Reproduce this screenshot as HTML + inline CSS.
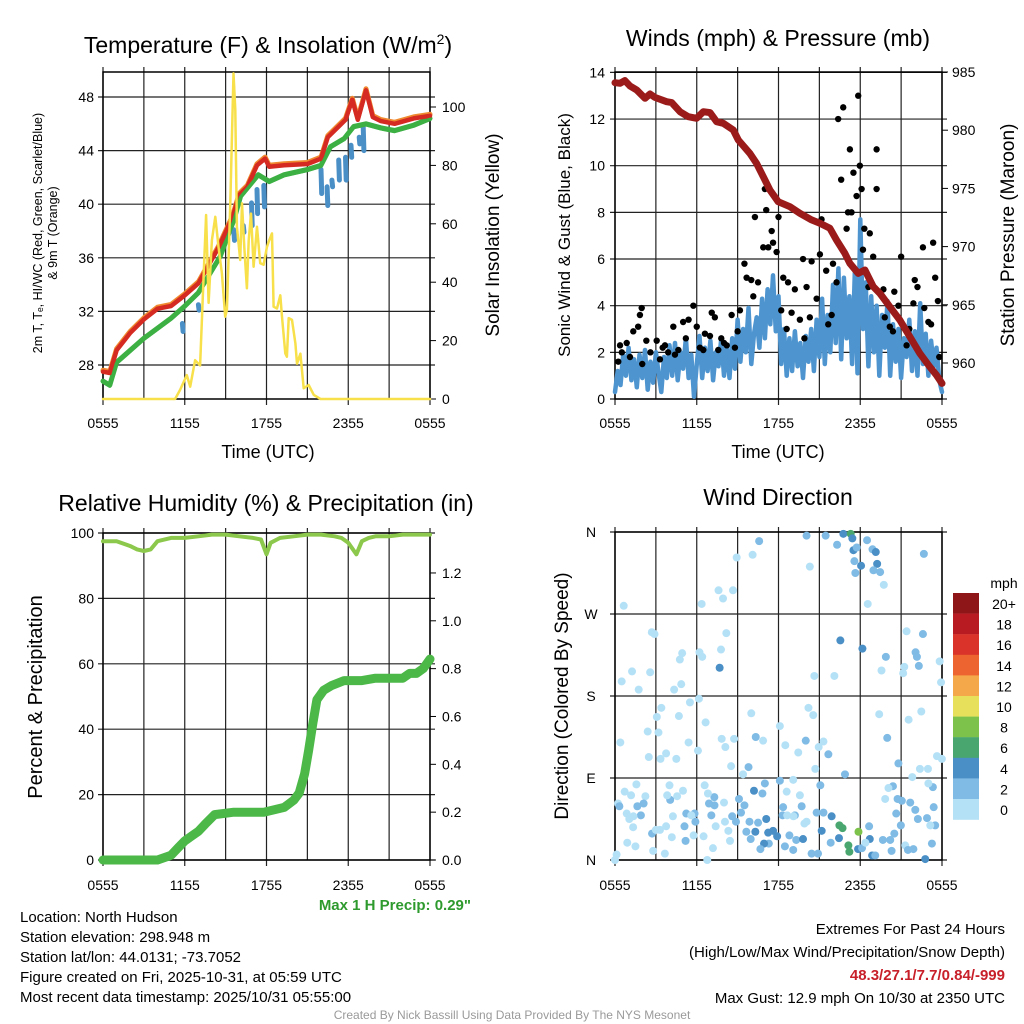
<!DOCTYPE html>
<html><head><meta charset="utf-8">
<style>
html,body{margin:0;padding:0;background:#fff;}
svg{display:block;font-family:"Liberation Sans",Arial,sans-serif;}
</style></head>
<body>
<svg id="fig" width="1024" height="1024" viewBox="0 0 1024 1024" xmlns="http://www.w3.org/2000/svg">
<rect width="1024" height="1024" fill="#fff"/>
<g id="p1"></g>
<g id="p2"></g>
<g id="p3"></g>
<g id="p4"></g>
<g id="txt">
<text x="268" y="53" font-size="23" text-anchor="middle">Temperature (F) &amp; Insolation (W/m<tspan font-size="14" dy="-9">2</tspan><tspan dy="9">)</tspan></text>
<text x="778" y="46" font-size="23" text-anchor="middle">Winds (mph) &amp; Pressure (mb)</text>
<text x="266" y="511" font-size="23" text-anchor="middle">Relative Humidity (%) &amp; Precipitation (in)</text>
<text x="778" y="505" font-size="23" text-anchor="middle">Wind Direction</text>
<text x="471" y="910" font-size="15" font-weight="bold" fill="#2e9a2e" text-anchor="end">Max 1 H Precip: 0.29"</text>
<g font-size="15" fill="#000">
<text x="20" y="922">Location: North Hudson</text>
<text x="20" y="942">Station elevation: 298.948 m</text>
<text x="20" y="962">Station lat/lon: 44.0131; -73.7052</text>
<text x="20" y="982">Figure created on Fri, 2025-10-31, at 05:59 UTC</text>
<text x="20" y="1002">Most recent data timestamp: 2025/10/31 05:55:00</text>
<text x="1005" y="934" text-anchor="end">Extremes For Past 24 Hours</text>
<text x="1005" y="957" text-anchor="end">(High/Low/Max Wind/Precipitation/Snow Depth)</text>
<text x="1005" y="980" text-anchor="end" fill="#c8202a" font-weight="bold">48.3/27.1/7.7/0.84/-999</text>
<text x="1005" y="1003" text-anchor="end">Max Gust: 12.9 mph On 10/30 at 2350 UTC</text>
</g>
<text x="512" y="1019" font-size="12" fill="#9a9a9a" text-anchor="middle">Created By Nick Bassill Using Data Provided By The NYS Mesonet</text>
</g>
</svg>
<script>
// ===== Panel 1 data =====
const tempRedH=[0,0.5,1,2,3,4,5,6,7,8.5,9.5,10,10.6,11.3,11.9,12.2,13.3,15,16,16.5,17.8,18.3,18.7,19.3,19.8,20.4,21.4,22.8,24];
const tempRedV=[27.5,27.4,29.1,30.4,31.4,32.2,32.4,33.2,34.1,36.8,39,40.7,41.3,42.9,43.4,42.8,42.9,43,43.4,45,46.3,47.8,46.3,48.5,46.5,46.2,46.0,46.4,46.6];
const tempGrnH=[0,0.5,1,3,5,6,7,8.6,9.6,10.1,11.4,12.2,13.3,15,16,16.7,17.7,18.4,19.3,20.4,21.4,22.8,24];
const tempGrnV=[26.8,26.5,28.2,30,31.5,32.4,33.4,36.1,38.8,40.6,42.2,41.7,42.2,42.6,42.9,44.3,44.9,45.8,46,45.7,45.5,45.9,46.4];
const dewH=[5.83,7.0,9.6,10.3,10.9,11.3,11.8,16.0,16.45,16.8,17.3,17.8,18.2,18.8,19.1];
const dewHi=[31.1,32.5,38.1,38.4,40.1,41.1,41.4,42.6,41.3,41.8,43.3,43.5,44.4,45,45.8];
const dewLo=[30.5,32.1,37.3,37.9,38.4,39.3,39.8,40.8,39.9,41.3,41.8,41.8,43.5,44.5,44];
const solarH=[0,5.29,5.66,6.15,6.4,6.76,7.13,7.38,7.57,7.75,7.99,8.24,8.48,8.73,8.97,9.09,9.34,9.58,9.71,9.83,10.07,10.2,10.37,10.56,10.69,10.86,11.05,11.3,11.54,11.79,12.03,12.16,12.4,12.52,12.77,13.01,13.14,13.38,13.5,13.63,13.87,14.12,14.24,14.49,14.73,15.1,15.47,15.96,24];
const solarW=[0,0,3.1,8.2,4.2,13.3,11.5,41.9,63,32.9,54.4,62.4,52.1,43,28.2,30.5,67,111.5,99,59,47.6,67,52,37.9,54.4,63.5,45.3,59,46.5,46,52,53.9,56.7,31.6,31,35.5,28.2,15.6,14.5,27.7,27.1,19,12.1,15.5,3.7,4.8,1.4,0,0];
const xTickLabels=["0555","1155","1755","2355","0555"];
const tempTicks=[28,32,36,40,44,48];
const solarTicks=[0,20,40,60,80,100];
// ===== Panel 2 data =====
const presH=[0,0.37,0.73,1.1,1.59,2.2,2.57,2.93,3.79,4.16,4.77,5.38,5.99,6.48,6.97,7.46,7.95,8.68,9.05,9.9,10.39,10.88,11.37,11.98,12.84,13.57,14.43,15.04,15.77,16.26,16.87,17.24,17.85,18.34,18.95,19.44,20.17,20.9,21.64,22.37,23.1,23.59,24];
const presMb=[984.08,984.03,984.26,983.8,983.45,982.74,983.11,982.82,982.45,982.37,981.59,981.16,981.02,981.59,981.51,980.73,980.59,980.02,979.16,978.01,977.15,976.01,974.86,973.86,973.43,972.86,972.29,972.0,971.57,970.57,969.42,968.56,967.7,967.99,966.56,965.98,964.84,963.69,962.26,960.83,959.68,958.97,958.25];
const windMph=[0.3,1.2,0.6,1.9,1.0,2.2,0.8,1.7,0.5,1.9,0.9,
2.1,0.4,1.6,0.7,2.0,1.1,0.3,1.8,0.9,2.3,
1.0,2.4,0.8,2.0,1.3,2.6,0.9,1.9,0.1,1.5,
2.7,0.9,2.2,1.2,2.5,0.8,2.0,1.4,2.6,1.0,
2.2,0.9,2.6,1.3,3.4,1.6,3.0,2.0,3.9,1.5,
2.8,3.5,2.2,4.3,2.6,4.7,3.2,5.3,2.9,4.4,
1.5,3.0,1.0,2.6,1.2,2.9,1.4,2.4,0.9,2.7,
1.6,3.0,1.2,3.4,1.8,4.3,1.5,3.6,2.0,4.9,
2.4,5.6,1.7,5.2,2.6,4.4,1.5,5.4,1.1,7.7,
3.0,5.0,1.4,4.4,2.0,4.0,1.0,3.6,2.2,4.2,
1.0,3.2,1.6,3.0,0.9,2.6,1.8,3.4,1.2,2.9,
1.0,4.1,1.5,2.8,1.0,2.5,1.4,2.2,0.8,0.3];
const gustH=[0.24,0.37,0.86,0.5,1.34,1.7,1.83,1.96,2.3,2.6,3.06,3.3,3.67,3.9,4.28,4.65,5.0,5.4,5.75,6.0,6.23,6.48,6.97,7.1,7.33,7.58,7.8,8.2,8.56,8.8,9.17,9.5,9.66,10.0,10.15,10.27,10.5,10.88,11.0,11.1,11.25,11.5,11.6,11.86,12.0,12.2,12.35,12.7,12.96,13.2,13.57,13.8,14.06,14.3,14.43,14.8,15.04,15.16,15.5,15.65,16.0,16.26,16.38,16.6,16.75,17.0,17.1,17.24,17.36,17.5,17.73,17.85,17.97,18.1,18.2,18.3,18.6,18.7,18.95,19.2,19.2,19.7,19.8,20.17,20.5,20.8,21.0,21.4,21.9,22.0,22.2,22.6,22.7,23.2,23.35,23.5,23.7,23.8,1.1,2.0,3.5,4.4,5.2,6.6,8.0,9.0,12.6,13.9,15.9,20.4,21.6,23.0];
const gustMph=[1.6,2.3,2.4,2.0,2.9,3.1,3.6,3.9,2.5,2.0,2.5,1.7,2.3,2.0,3.1,2.1,3.3,3.4,4.0,3.1,2.2,2.1,2.7,3.7,3.5,2.1,2.6,2.3,3.6,2.2,3.8,5.8,5.2,5.1,4.4,7.8,5.0,6.5,9.0,8.1,6.5,7.2,6.7,6.3,7.8,3.8,5.2,5.0,3.7,4.7,3.4,6.0,4.8,3.5,5.9,4.3,6.2,7.7,5.5,3.2,5.8,5.0,12.0,9.4,12.5,7.3,8.0,10.7,8.0,9.7,8.7,13.0,10.0,9.0,6.4,7.3,4.8,7.1,6.1,10.7,9.0,4.7,3.5,3.1,4.6,4.0,6.1,2.3,4.1,5.1,4.8,6.5,3.9,3.2,6.7,5.2,4.2,1.8,1.8,1.5,2.2,1.9,2.6,2.8,2.4,2.9,3.0,2.6,3.6,2.9,3.0,3.3];
const windTicks=[0,2,4,6,8,10,12,14];
const presTicks=[960,965,970,975,980,985];
// ===== Panel 3 data =====
const rhH=[0,1,2,2.5,3,3.5,4,5,6,7,8,9,10,11,11.6,12,12.3,13,14,15,16,17,17.5,18,18.6,19,19.5,20,21,22,24];
const rhPct=[97.5,97.5,96,95,94.5,95,97.5,98.5,98.5,99,99.5,99.5,99,98.5,98,93.5,97,98.5,99,99.5,99.5,99,98.5,97,93.5,97.5,98.5,99,99,99.5,99.5];
const precipH=[0,4,4.5,5,5.5,6,6.5,7,7.5,8.2,9.6,11.8,13.3,14,14.4,14.8,15.1,15.4,15.7,16.2,16.8,17.7,19,20,22,22.5,23,23.5,24];
const precipIn=[0,0,0.01,0.02,0.05,0.08,0.1,0.12,0.15,0.19,0.2,0.2,0.22,0.25,0.28,0.36,0.46,0.57,0.67,0.71,0.73,0.75,0.75,0.76,0.76,0.78,0.78,0.8,0.84];
const rhTicks=[0,20,40,60,80,100];
const precipTicks=[0,0.2,0.4,0.6,0.8,1.0,1.2];
// ===== Panel 4 data =====
const dirH=[0.64,2.7,2.9,0.49,1.25,1.74,2.58,0.39,2.48,2.4,3.07,3.4,3.19,3.34,3.75,4.5,4.69,4.86,4.34,4.76,4.93,6.36,6.2,6.4,7.6,7.93,8.66,8.93,10.1,10.58,7.78,8.17,7.68,6.16,5.5,6.65,6.09,5.4,7.83,8.1,8.74,8.52,10.0,10.33,10.87,9.8,9.4,12.1,12.5,13.45,14.0,14.2,14.55,14.63,14.95,15.3,15.66,14.7,14.06,14.3,15.46,16.3,16.76,17.3,17.42,17.5,17.74,17.57,17.64,18.06,18.5,18.9,19.14,19.24,18.97,19.46,19.73,18.55,22.67,16.54,18.16,16.1,19.88,19.56,21.4,22.6,22.06,22.16,22.3,21.23,21.15,23.83,23.93,22.48,21.55,19.39,19.98,20.8,23.63,23.99,22.38,22.97,21.82,16.88,15.07,15.3,14.8,15.9,16.47,16.7,17.87,17.13,17.2,16.44,15.83,15.17,14.43,14.9,17.84,18.13,18.7,18.65,18.87,19.1,18.38,19.66,20.2,20.5,20.3,21.3,21.5,21.9,22.77,23.26,20.98,20.64,21.05,21.67,22.04,22.23,22.9,23.39,23.5,23.14,23.33,23.0,20.4,20.07,19.83,20.74,13.7,14.06,13.2,12.6,13.08,13.57,12.1,11.0,10.2,10.82,9.1,9.5,9.25,8.6,9.87,10.5,11.1,10.3,9.64,11.24,11.6,11.9,11.29,10.94,10.67,9.96,12.47,12.8,13.3,13.8,13.08,12.3,12.64,12.34,13.1,13.9,8.44,8.88,8.32,8.07,8.0,7.3,6.9,7.07,7.29,6.58,6.82,7.39,6.5,6.77,7.19,5.77,5.18,5.1,5.23,5.84,5.9,5.6,4.25,4.99,4.56,4.05,3.83,4.0,3.75,3.3,3.66,2.8,2.72,3.0,4.17,2.23,2.1,1.64,1.9,1.35,1.05,0.86,1.18,1.57,0.71,0.22,0.32,1.33,1.5,0.9,0.12,0];
const dirDeg=[279,250,248,196,207,187,206,129,113,141,157,167,140,111,117,111,158,193,187,220,227,281,228,223,296,287,296,332,335,350,231,249,211,177,173,151,120,129,133,124,133,103,161,135,131,102,94,147,126,118,131,167,159,202,124,130,116,100,356,322,356,346,358,358,353,340,343,328,315,323,351,341,338,325,318,316,302,281,336,241,232,202,223,208,251,248,228,223,213,212,205,218,195,163,154,160,134,106,114,111,100,100,91,94,82,52,52,48,38,35,31,16,9,24,19,32,7,7,12,13,23,37,5,5,19,22,22,29,10,16,11,12,1,18,38,51,65,63,55,45,46,58,38,38,80,84,81,79,67,67,59,42,49,75,88,71,87,84,76,73,67,60,52,48,42,41,45,31,31,30,32,26,18,18,12,23,15,27,22,23,11,49,49,58,48,40,21,42,32,42,63,60,62,49,69,82,73,37,26,0,13,27,21,37,51,51,42,49,48,76,70,66,71,82,37,33,7,10,29,33,25,70,62,59,49,48,45,51,71,83,75,62,59,36,15,19,6,0];
const dirSpd=[1,1,1,1,1,1,1,1,1,1,1,1,1,1,1,1,1,1,1,1,1,1,1,1,1,1,1,1,1,3,1,1,5,1,1,1,1,1,1,1,1,1,1,3,1,3,1,1,1,1,3,1,1,1,1,1,3,1,3,1,3,3,5,7,5,5,3,3,3,5,3,3,5,5,3,3,1,1,3,5,5,1,3,1,1,3,3,3,3,1,1,1,1,1,1,1,3,3,1,1,1,1,1,3,3,3,3,5,7,7,9,7,7,5,3,5,3,3,5,3,5,3,5,3,1,3,3,3,3,1,3,3,5,3,3,3,3,3,3,3,3,3,3,1,3,1,3,1,1,3,3,1,3,1,1,1,3,3,5,3,3,3,3,3,3,3,5,5,3,5,5,5,3,5,3,3,3,3,3,5,3,3,1,3,1,1,1,3,1,1,1,3,3,3,3,1,1,1,1,1,1,1,3,3,3,3,3,1,1,1,1,3,1,1,1,1,1,1,3,1,1,1,3,3,3,1,1,1,1,1,1,1,3,1,1,1,1,1,1,1,1,1,1,1];
const dirTickLabels=["N","E","S","W","N"];
const cbLabels=["20+","18","16","14","12","10","8","6","4","2","0"];
const cbColors=["#8e1518","#b81b22","#d9332a","#ee6431","#f5a84a","#e6e05a","#7cc24b","#4aa66f","#4a8fc6","#7fbbe4","#b5e1f7"];

const NS="http://www.w3.org/2000/svg";
function mk(parent,tag,attrs){const e=document.createElementNS(NS,tag);for(const k in attrs)e.setAttribute(k,attrs[k]);parent.appendChild(e);return e;}
function txt(parent,x,y,s,size,anchor,name,rot){const t=mk(parent,'text',{x:x,y:y,'font-size':size,'text-anchor':anchor||'middle'});


if(rot)t.setAttribute('transform','rotate(-90 '+x+' '+y+')');t.textContent=s;return t;}
function poly(parent,xs,ys,color,w,name){let d='';for(let i=0;i<xs.length;i++)d+=(i?'L':'M')+xs[i].toFixed(1)+','+ys[i].toFixed(1);
const p=mk(parent,'path',{d:d,fill:'none',stroke:color,'stroke-width':w,'stroke-linejoin':'round','stroke-linecap':'round'});


return p;}

function frame(g,x0,x1,y0,y1,hLines,labOff){
  const gr=mk(g,'g',{stroke:'#222','stroke-width':1.2});
  
  
  for(let i=0;i<=8;i++){const x=x0+(x1-x0)*i/8;mk(gr,'line',{x1:x,y1:y0-5,x2:x,y2:y1+(i%2?0:6)});}
  hLines.forEach(y=>mk(gr,'line',{x1:x0-5,y1:y,x2:x1+5,y2:y}));
  const r=mk(g,'rect',{x:x0,y:y0,width:x1-x0,height:y1-y0,fill:'none',stroke:'#000','stroke-width':1.5});
  
  
  xTickLabels.forEach((s,i)=>txt(g,x0+(x1-x0)*i/4,y1+labOff,s,14,'middle','x-tick-label'));
}

// ===== Panel 1 =====
(function(){
 const g=document.getElementById('p1');const X0=103,X1=430,Y0=72,Y1=399;
 const xs=h=>X0+h*(X1-X0)/24, yT=v=>97+(48-v)*13.4, yS=w=>399-w*2.92;
 frame(g,X0,X1,Y0,Y1,tempTicks.map(yT),29);
 tempTicks.forEach(v=>txt(g,X0-9,yT(v)+5,String(v),14,'end','temp-tick-label'));
 solarTicks.forEach(v=>{txt(g,X1+12,yS(v)+5,String(v),14,'start','solar-tick-label');mk(g,'line',{x1:X1,y1:yS(v),x2:X1+6,y2:yS(v),stroke:'#000'});});
 const sub=mk(g,'g',{});
 poly(sub,tempRedH.map(xs),tempRedV.map(v=>yT(v)-1.5),'#f08a30',5,'orange-9m-temp-line');
 poly(sub,tempGrnH.map(xs),tempGrnV.map(yT),'#3cb043',5,'green-hiwc-line');
 for(let i=0;i<dewH.length;i++){poly(sub,[xs(dewH[i]),xs(dewH[i]+0.05)],[yT(dewHi[i]),yT(dewLo[i])],'#4a8fc6',5,'blue-dewpoint-segment');}
 poly(sub,tempRedH.map(xs),tempRedV.map(yT),'#d42a22',4.5,'red-2m-temp-line');
 poly(sub,tempGrnH.map(xs),tempGrnV.map(v=>yT(v)+1),'#3cb043',3.5,'green-hiwc-line-top');
 poly(sub,solarH.map(xs),solarW.map(yS),'#f7e04a',2.5,'yellow-insolation-line');
 txt(g,268,458,'Time (UTC)',18,'middle','x-axis-title');
 txt(g,42,233,'2m T, T\u2091, HI/WC (Red, Green, Scarlet/Blue)',12.5,'middle','y-axis-title-left',true);
 txt(g,57,233,'& 9m T (Orange)',12.5,'middle','y-axis-title-left-2',true);
 txt(g,499,235,'Solar Insolation (Yellow)',19,'middle','y-axis-title-right',true);
})();

// ===== Panel 2 =====
(function(){
 const g=document.getElementById('p2');const X0=615,X1=942,Y0=72,Y1=399;
 const xs=h=>X0+h*(X1-X0)/24, yW=m=>399-m*23.33, yP=p=>72+(985-p)*11.64;
 frame(g,X0,X1,Y0,Y1,windTicks.map(yW),29);
 windTicks.forEach(v=>txt(g,X0-10,yW(v)+5,String(v),14,'end','wind-tick-label'));
 presTicks.forEach(v=>{txt(g,X1+10,yP(v)+5,String(v),14,'start','pressure-tick-label');mk(g,'line',{x1:X1,y1:yP(v),x2:X1+6,y2:yP(v),stroke:'#000'});});
 const wh=windMph.map((v,i)=>xs(i*24/(windMph.length-1)));
 poly(g,wh,windMph.map(yW),'#4e95d0',4.5,'blue-sonic-wind-line');
 for(let i=0;i<gustH.length;i++){const c=mk(g,'circle',{cx:xs(gustH[i]),cy:yW(gustMph[i]),r:3.2,fill:'#000'});
  
  }
 poly(g,presH.map(xs),presMb.map(yP),'#9b1b1b',7,'maroon-pressure-line');
 txt(g,778,458,'Time (UTC)',18,'middle','x-axis-title');
 txt(g,570,235,'Sonic Wind & Gust (Blue, Black)',17,'middle','y-axis-title-left',true);
 txt(g,1014,235,'Station Pressure (Maroon)',19,'middle','y-axis-title-right',true);
})();

// ===== Panel 3 =====
(function(){
 const g=document.getElementById('p3');const X0=103,X1=430,Y0=533,Y1=860;
 const xs=h=>X0+h*(X1-X0)/24, yR=v=>860-v*3.27, yI=p=>860-p*239.2;
 frame(g,X0,X1,Y0,Y1,rhTicks.map(yR),30);
 rhTicks.forEach(v=>txt(g,X0-9,yR(v)+5,String(v),14,'end','rh-tick-label'));
 precipTicks.forEach(v=>{txt(g,X1+12,yI(v)+5,v.toFixed(1),14,'start','precip-tick-label');mk(g,'line',{x1:X1,y1:yI(v),x2:X1+6,y2:yI(v),stroke:'#000'});});
 poly(g,rhH.map(xs),rhPct.map(yR),'#8cc84b',4,'rh-line');
 poly(g,precipH.map(xs),precipIn.map(yI),'#4cb848',9,'precip-line');
 txt(g,42,697,'Percent & Precipitation',20,'middle','y-axis-title-left',true);
})();

// ===== Panel 4 =====
(function(){
 const g=document.getElementById('p4');const X0=615,X1=942,Y0=532,Y1=860;
 const xs=h=>X0+h*(X1-X0)/24, yD=d=>860-d*(Y1-Y0)/360;
 const dt=[0,90,180,270,360];
 frame(g,X0,X1,Y0,Y1,dt.map(yD),30);
 dt.forEach((d,i)=>txt(g,X0-24,yD(d)+5,dirTickLabels[i],14,'middle','direction-tick-label'));
 const n=Math.min(dirH.length,dirDeg.length);
 for(let i=0;i<n;i++){
  const s=(dirSpd[i]===undefined)?1:dirSpd[i];
  const bin=Math.min(10,Math.floor(s/2));
  const c=mk(g,'circle',{cx:xs(dirH[i]),cy:yD(dirDeg[i]),r:4,fill:cbColors[10-bin]});
  
  
 }
 txt(g,568,696,'Direction (Colored By Speed)',19,'middle','y-axis-title-left',true);
 txt(g,1004,588,'mph',14,'middle','colorbar-title');
 for(let i=0;i<11;i++){
  const r=mk(g,'rect',{x:953,y:593+i*20.6,width:26,height:20.8,fill:cbColors[i]});
  
  
  txt(g,1004,593+i*20.6+16,cbLabels[i],14,'middle','colorbar-label');
 }
})();
</script>
</body></html>
